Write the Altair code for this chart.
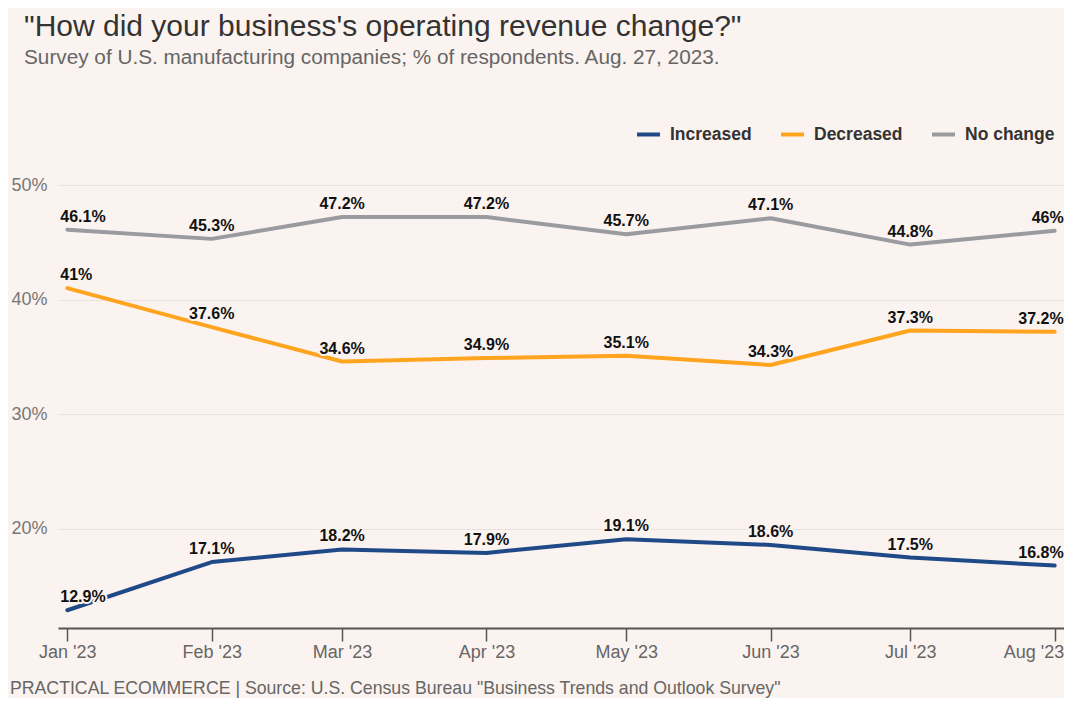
import altair as alt
import pandas as pd

months = ["2023-01-01", "2023-02-01", "2023-03-01", "2023-04-01",
          "2023-05-01", "2023-06-01", "2023-07-01", "2023-08-01"]
increased = [12.9, 17.1, 18.2, 17.9, 19.1, 18.6, 17.5, 16.8]
decreased = [41.0, 37.6, 34.6, 34.9, 35.1, 34.3, 37.3, 37.2]
no_change = [46.1, 45.3, 47.2, 47.2, 45.7, 47.1, 44.8, 46.0]
series_names = ["Increased", "Decreased", "No change"]
series_colors = ["#1f4a87", "#ffa41f", "#999ba0"]

rows = []
for name, vals in zip(series_names, [increased, decreased, no_change]):
    for i, (m, v) in enumerate(zip(months, vals)):
        pos = "first" if i == 0 else ("last" if i == len(months) - 1 else "mid")
        rows.append({"month": m, "series": name, "value": v,
                     "label": f"{v:g}%", "pos": pos})
df = pd.DataFrame(rows)

BG = "#fbf3ef"
W, H = 1006, 443
FONT = "Liberation Sans"

x_enc = alt.X("month:T", title=None,
              scale=alt.Scale(domain=["2022-12-30", "2023-08-03"]),
              axis=alt.Axis(values=[pd.Timestamp(m).isoformat() for m in months],
                            format="%b '%y", labelFontSize=18, labelColor="#666",
                            labelFont=FONT, domainColor="#555",
                            tickColor="#555", tickSize=13, tickWidth=1.5,
                            labelPadding=2, grid=False, domainWidth=2,
                            labelFlush=False,
                            labelAlign=alt.expr("month(datum.value) == 7 ? 'right' : 'center'"),
                            labelOffset=alt.expr("month(datum.value) == 7 ? 9 : 0")))
y_enc = alt.Y("value:Q", title=None,
              scale=alt.Scale(domain=[11.35, 50], nice=False, zero=False),
              axis=alt.Axis(values=[20, 30, 40, 50], labelExpr="datum.value + '%'",
                            labelFontSize=18, labelColor="#777",
                            labelFont=FONT, domain=False, ticks=False,
                            gridColor="#e8e2df", gridWidth=1, labelPadding=11))
color_enc = alt.Color("series:N",
                      scale=alt.Scale(domain=series_names, range=series_colors),
                      legend=alt.Legend(title=None, orient="none", direction="horizontal",
                                        legendX=577, legendY=-64,
                                        symbolType="stroke", symbolStrokeWidth=4,
                                        symbolSize=529, labelFontSize=17.5,
                                        labelFontWeight="bold", labelColor="#333",
                                        labelFont=FONT,
                                        columnPadding=21, labelOffset=8))

base = alt.Chart(df)

lines = base.mark_line(strokeWidth=4, strokeCap="round", strokeJoin="round").encode(
    x=x_enc, y=y_enc, color=color_enc)

def labels(pos, align, dx, halo):
    props = dict(fontSize=16, fontWeight="bold", font=FONT,
                 baseline="alphabetic", dy=-8, align=align, dx=dx, color="#111")
    if halo:
        props.update(stroke=BG, strokeWidth=4, strokeJoin="round", color=BG)
    return base.transform_filter(alt.datum.pos == pos).mark_text(**props).encode(
        x="month:T", y="value:Q", text="label:N")

text_layers = []
for halo in (True, False):
    text_layers += [labels("mid", "center", 0, halo),
                    labels("first", "left", -7, halo),
                    labels("last", "right", 9, halo)]

footer = alt.Chart(pd.DataFrame({"t": ['PRACTICAL ECOMMERCE | Source: U.S. Census Bureau "Business Trends and Outlook Survey"']})).mark_text(
    align="left", baseline="middle", fontSize=17.7, color="#666", font=FONT
).encode(x=alt.value(-48), y=alt.value(504), text="t:N")

chart = alt.layer(lines, *text_layers, footer).properties(
    width=W, height=H,
    background=BG,
    padding={"left": 2, "top": 4, "right": 0, "bottom": 0},
    title=alt.TitleParams(
        text='"How did your business\'s operating revenue change?"',
        subtitle="Survey of U.S. manufacturing companies; % of respondents. Aug. 27, 2023.",
        anchor="start", frame="group", offset=53,
        fontSize=30, fontWeight="normal", color="#333", font=FONT,
        subtitleFontSize=20.75, subtitleColor="#666", subtitleFont=FONT,
        subtitlePadding=6, dx=-34)
).configure_view(stroke=None)

chart.save("out.html", embed_options={"renderer": "svg", "actions": False})
